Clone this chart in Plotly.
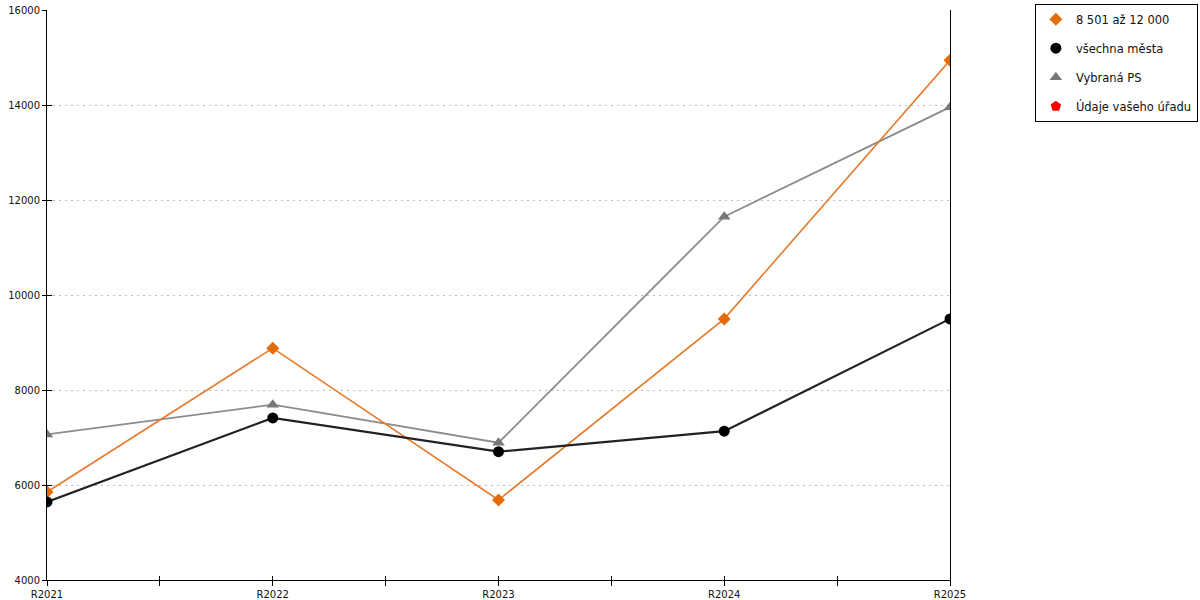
import plotly.graph_objects as go

categories = ["R2021", "R2022", "R2023", "R2024", "R2025"]
orange_vals = [5853, 8881, 5684, 9497, 14944]
black_vals = [5643, 7413, 6701, 7133, 9497]
gray_vals = [7065, 7692, 6890, 11650, 13955]
red_vals = [None, None, None, None, None]

names = ["8 501 až 12 000", "všechna města", "Vybraná PS", "Údaje vašeho úřadu"]
y_ticks = [4000, 6000, 8000, 10000, 12000, 14000, 16000]

FONT = "DejaVu Sans"

x_pos = list(range(len(categories)))
half_ticks = [i * 0.5 for i in range(2 * len(categories) - 1)]
half_text = [categories[int(v)] if v == int(v) else "" for v in half_ticks]
inner_ticks = [v for v in half_ticks if 0 < v < len(categories) - 1]

series = [
    (names[2], gray_vals, "#8C8C8C", 1.8, "triangle-up", 11, "#777777", 3),
    (names[0], orange_vals, "#E8782A", 1.6, "diamond", 10, "#E36C09", 1),
    (names[1], black_vals, "#222222", 2.2, "circle", 11, "#000000", 2),
    (names[3], red_vals, "#FF0000", 1.6, "pentagon", 11, "#FF0000", 4),
]

fig = go.Figure()
# lines (no legend entries)
for name, vals, lc, lw, sym, ms, mc, rank in series:
    fig.add_trace(go.Scatter(x=x_pos, y=vals, mode="lines", showlegend=False,
                             line=dict(color=lc, width=lw), hoverinfo="skip"))
# markers (legend entries) on the overlay axes
for name, vals, lc, lw, sym, ms, mc, rank in series:
    fig.add_trace(go.Scatter(x=x_pos, y=vals, mode="markers", name=name,
                             marker=dict(symbol=sym, size=ms, color=mc),
                             legendrank=rank, legendgroup=name,
                             xaxis="x2", yaxis="y2"))

fig.update_layout(
    width=1200, height=600,
    margin=dict(l=47, r=250, t=10, b=20, autoexpand=False),
    paper_bgcolor="white", plot_bgcolor="white",
    font=dict(family=FONT, size=10, color="#111111"),
    showlegend=True,
    legend=dict(x=1.094, y=1.011, xanchor="left", yanchor="top",
                bordercolor="#000000", borderwidth=1, bgcolor="white",
                font=dict(family=FONT, size=11.5, color="#111111"),
                tracegroupgap=10, traceorder="grouped", itemwidth=30),
    xaxis=dict(range=[0, len(categories) - 1], tickvals=half_ticks, ticktext=half_text,
               showgrid=False, zeroline=False, automargin=False,
               showline=True, linecolor="#000000", linewidth=1,
               ticks="outside", ticklen=5, tickcolor="#000000",
               tickfont=dict(family=FONT, size=10)),
    xaxis2=dict(overlaying="x", anchor="y2", side="bottom", range=[0, len(categories) - 1],
                tickvals=inner_ticks, ticks="inside", ticklen=4, automargin=False,
                tickcolor="#000000", showticklabels=False, showgrid=False,
                zeroline=False, showline=False),
    yaxis=dict(range=[y_ticks[0], y_ticks[-1]], tickvals=y_ticks, tickformat="d",
               showgrid=True, gridcolor="#BBBBBB", griddash="2px,4px", gridwidth=1,
               zeroline=False, showline=True, linecolor="#000000", linewidth=1,
               mirror=True, ticks="outside", ticklen=4, tickcolor="#000000",
               automargin=False, tickfont=dict(family=FONT, size=10)),
    yaxis2=dict(overlaying="y", anchor="x2", side="left", range=[y_ticks[0], y_ticks[-1]],
                tickvals=y_ticks, ticks="inside", ticklen=5, tickcolor="#000000",
                automargin=False, showticklabels=False, showgrid=False,
                zeroline=False, showline=False),
)

fig.write_html("out.html", config={"displayModeBar": False},
               post_script="document.body.style.margin='0';document.body.style.padding='0';")
